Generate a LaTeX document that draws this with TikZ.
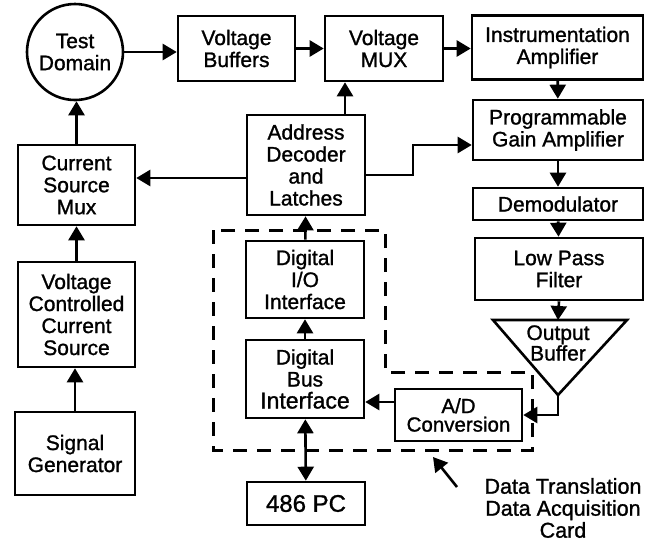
\documentclass[tikz,border=0pt]{standalone}
\usepackage{fontspec}
\setmainfont{Liberation Sans}[FakeBold=1.2]
\usetikzlibrary{arrows.meta}
\tikzset{
  blk/.style={draw,line width=2.6pt,align=center,inner sep=0pt,
    font=\fontsize{21}{22}\selectfont},
  arr/.style={line width=2.6pt,-{Triangle[length=14pt,width=16pt]}},
  arrboth/.style={line width=2.6pt,{Triangle[length=14pt,width=16pt]}-{Triangle[length=14pt,width=16pt]}},
  card/.style={line width=3pt,dash pattern=on 14pt off 10pt}
}
\begin{document}
\begin{tikzpicture}[x=1pt,y=-1pt]
  \useasboundingbox (0,0) rectangle (656,542);
  % nodes
  \node (dom)   at (75,52)      [blk,circle,minimum size=96pt] {Test\\Domain};
  \node (vbuf)  at (236.5,48.5) [blk,minimum width=117pt,minimum height=65pt] {Voltage\\Buffers};
  \node (vmux)  at (384,48.5)   [blk,minimum width=118pt,minimum height=65pt] {Voltage\\MUX};
  \node (inamp) at (557.5,47.5) [blk,minimum width=171pt,minimum height=64pt] {Instrumentation\\Amplifier};
  \node (pga)   at (558,130)    [blk,minimum width=170pt,minimum height=60pt] {Programmable\\Gain Amplifier};
  \node (demod) at (558,204)    [blk,minimum width=170pt,minimum height=32pt] {Demodulator};
  \node (lpf)   at (559,269)    [blk,minimum width=168pt,minimum height=62pt] {Low Pass\\Filter};
  \node (addr)  at (306,165)    [blk,minimum width=118pt,minimum height=100pt] {Address\\Decoder\\and\\Latches};
  \node (csm)   at (76.5,185)   [blk,minimum width=117pt,minimum height=80pt] {Current\\Source\\Mux};
  \node (vccs)  at (76.5,314.5) [blk,minimum width=117pt,minimum height=105pt] {Voltage\\Controlled\\Current\\Source};
  \node (sig)   at (75,453.5)   [blk,minimum width=120pt,minimum height=83pt] {Signal\\Generator};
  \node (dio)   at (305,279.5)  [blk,minimum width=118pt,minimum height=77pt] {Digital\\I/O\\Interface};
  \node (dbi)   at (305,379)    [blk,minimum width=118pt,minimum height=78pt] {Digital\\Bus\\{\fontsize{23}{22}\selectfont Interface}};
  \node (pc)    at (306,503.5)  [blk,minimum width=118pt,minimum height=43pt,font=\fontsize{24}{26}\selectfont] {486 PC};
  \node (adc)   at (458.5,415)  [blk,minimum width=127pt,minimum height=52pt,font=\fontsize{20.5}{18.5}\selectfont] {A/D\\Conversion};
  % output buffer triangle
  \coordinate (obtop) at (558,320);
  \coordinate (obtip) at (558,395);
  \draw[line width=2.6pt,line join=miter] (493,320) -- (627,320) -- (obtip) -- cycle;
  \node (obuf) at (558,343) [align=center,inner sep=0pt,font=\fontsize{21}{16.5}\selectfont] {Output\\Buffer};
  % signal path
  \draw[arr] (dom) -- (dom -| vbuf.west);
  \draw[arr] (vbuf) -- (vmux);
  \draw[arr] (vmux) -- (vmux -| inamp.west);
  \draw[arr] (inamp) -- (pga);
  \draw[arr] (pga) -- (demod);
  \draw[arr] (demod) -- (lpf);
  \draw[arr] (lpf.south) -- (obtop);
  \draw[arr] (obtip) |- (adc.east);
  \draw[arr] ([yshift=13pt]adc.west) -- ([yshift=13pt]adc.west -| dbi.east);
  % current source chain
  \draw[arr] (sig) -- (sig.north |- vccs.south);
  \draw[arr] (vccs) -- (csm);
  \draw[arr] (csm.north) -- (csm.north |- dom.south);
  % control lines
  \coordinate (bend) at (413,145);
  \draw[arr] ([xshift=39pt]addr.north) -- ([xshift=39pt]addr.north |- vmux.south);
  \draw[arr] ([yshift=-13pt]addr.west) -- ([yshift=-13pt]addr.west -| csm.east);
  \draw[arr] ([yshift=-10pt]addr.east) -| (bend) -- (bend -| pga.west);
  \draw[arr] (dio) -- (addr);
  \draw[arr] (dbi) -- (dio);
  \draw[arrboth] (dbi) -- (pc);
  % acquisition card outline
  \draw[card] (213,230) -- (213,450) -- (532,450) -- (532,372) -- (385,372) -- (385,230) -- cycle;
  \coordinate (cardtip) at (433,457);
  \node (cardlbl) at (563,508) [align=center,inner sep=0pt,font=\fontsize{21.5}{22}\selectfont] {Data Translation\\Data Acquisition\\Card};
  \draw[arr] (457,487) -- (cardtip);
\end{tikzpicture}
\end{document}
